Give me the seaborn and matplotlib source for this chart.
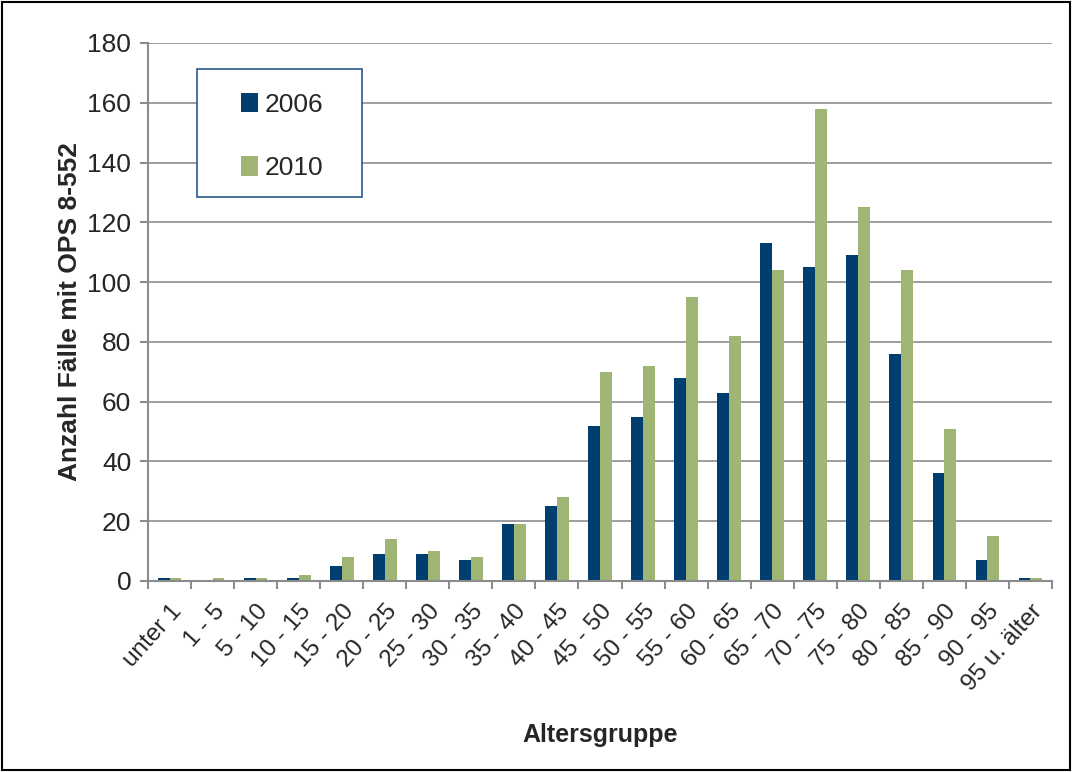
import matplotlib
matplotlib.use('Agg')
import matplotlib.pyplot as plt
import seaborn as sns
import pandas as pd
import numpy as np
from matplotlib.ticker import FixedLocator

gruppen = ['unter 1', '1 - 5', '5 - 10', '10 - 15', '15 - 20', '20 - 25', '25 - 30',
           '30 - 35', '35 - 40', '40 - 45', '45 - 50', '50 - 55', '55 - 60', '60 - 65',
           '65 - 70', '70 - 75', '75 - 80', '80 - 85', '85 - 90', '90 - 95', '95 u. älter']
werte_2006 = [1, 0, 1, 1, 5, 9, 9, 7, 19, 25, 52, 55, 68, 63, 113, 105, 109, 76, 36, 7, 1]
werte_2010 = [1, 1, 1, 2, 8, 14, 10, 8, 19, 28, 70, 72, 95, 82, 104, 158, 125, 104, 51, 15, 1]

df = pd.DataFrame({
    'Altersgruppe': gruppen * 2,
    'Anzahl': werte_2006 + werte_2010,
    'Jahr': ['2006'] * len(gruppen) + ['2010'] * len(gruppen),
})

sns.set_style('white')
plt.rcParams['font.family'] = ['Liberation Sans', 'DejaVu Sans']

fig = plt.figure(figsize=(10.72, 7.72), dpi=100)
ax = fig.add_axes([148 / 1072, 1 - 581 / 772, 904 / 1072, 538 / 772])

farben = {'2006': '#003e70', '2010': '#9eb574'}
sns.barplot(data=df, x='Altersgruppe', y='Anzahl', hue='Jahr', palette=farben,
            width=0.55, linewidth=0, saturation=1, ax=ax)

ax.set_ylim(0, 180)
ax.set_xlim(-0.5, len(gruppen) - 0.5)
ax.set_yticks(range(0, 181, 20))
ax.yaxis.grid(True, color='#8c8c8c', linewidth=1.2)
ax.set_axisbelow(True)
for s in ['top', 'right']:
    ax.spines[s].set_visible(False)
for s in ['left', 'bottom']:
    ax.spines[s].set_color('#8c8c8c')
    ax.spines[s].set_linewidth(1.5)

ax.tick_params(axis='y', which='major', length=6, width=1.5, color='#8c8c8c',
               labelsize=19, pad=6, left=True)
ax.tick_params(axis='x', which='major', length=0, labelsize=17.5, pad=14)
ax.xaxis.set_minor_locator(FixedLocator(np.arange(-0.5, len(gruppen), 1)))
ax.tick_params(axis='x', which='minor', length=6, width=1.5, color='#8c8c8c', bottom=True)
plt.setp(ax.get_xticklabels(), rotation=48, ha='right', rotation_mode='anchor')

ax.set_xlabel('Altersgruppe', fontsize=18, fontweight='bold', labelpad=20)
ax.set_ylabel('Anzahl Fälle mit OPS 8-552', fontsize=19, fontweight='bold', labelpad=4)

# Legende ohne eigenen Rahmen, Rahmen separat wie im Original
leg = ax.legend(loc='upper left', bbox_to_anchor=((241 - 148) / 904, (581 - 93) / 538),
                fontsize=19, frameon=False, handlelength=0.65, handleheight=0.75,
                handletextpad=0.25, labelspacing=1.48, borderpad=0, borderaxespad=0)
leg.set_title(None)
ax.add_patch(plt.Rectangle(((197 - 148) / 904, (581 - 197) / 538), 165 / 904, 128 / 538,
                           transform=ax.transAxes, facecolor='white', edgecolor='#2a5a8a',
                           linewidth=1.2, zorder=4))
leg.set_zorder(5)

fig.patches.append(plt.Rectangle((0.002, 0.002), 0.996, 0.996, transform=fig.transFigure,
                                 fill=False, edgecolor='black', linewidth=1.5))

fig.savefig('out.png', dpi=100)
